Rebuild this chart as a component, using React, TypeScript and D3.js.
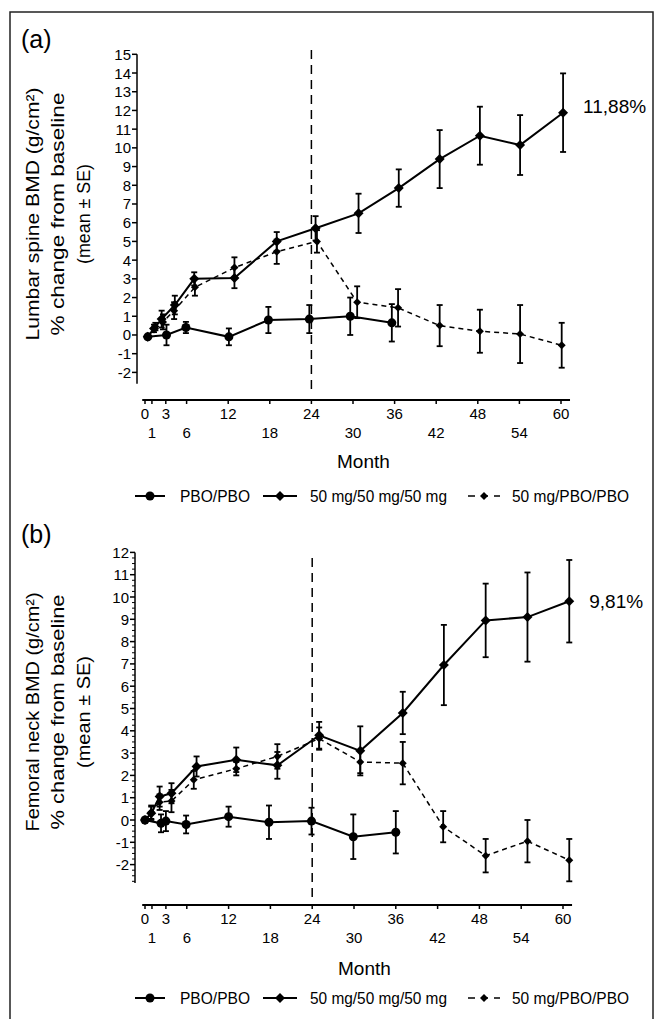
import React from 'react';
import * as d3 from 'd3';

// Panel (a): lumbar spine. Months are read as plotted (series are slightly dodged in the figure).
const pboMonthsA = [0.4, 3.1, 5.9, 12.1, 17.8, 23.7, 29.6, 35.6];
const pboValuesA = [-0.1, 0.0, 0.4, -0.1, 0.8, 0.85, 1.0, 0.65];
const pboSeA = [0, 0.55, 0.3, 0.45, 0.7, 0.75, 1.0, 1.0];

const contMonthsA = [0.4, 1.3, 2.4, 4.3, 7.1, 12.9, 19.0, 24.6, 30.8, 36.6, 42.5, 48.3, 54.1, 60.3];
const contValuesA = [-0.1, 0.35, 0.85, 1.6, 3.0, 3.05, 5.0, 5.7, 6.5, 7.85, 9.4, 10.65, 10.15, 11.88];
const contSeA = [0, 0.2, 0.45, 0.5, 0.35, 0.55, 0.5, 0.65, 1.05, 1.0, 1.55, 1.55, 1.6, 2.1];

const stopMonthsA = [0.4, 1.5, 2.6, 4.2, 7.2, 12.9, 19.0, 24.8, 30.6, 36.5, 42.5, 48.3, 54.1, 60.1];
const stopValuesA = [-0.1, 0.45, 0.7, 1.3, 2.55, 3.6, 4.45, 5.0, 1.75, 1.45, 0.5, 0.2, 0.05, -0.55];
const stopSeA = [0, 0.2, 0.4, 0.45, 0.45, 0.55, 0.65, 0.6, 0.85, 1.0, 1.1, 1.15, 1.55, 1.2];

// Panel (b): femoral neck
const pboMonthsB = [0, 2.3, 3.0, 5.9, 12.0, 17.8, 23.9, 29.9, 36.0];
const pboValuesB = [0, -0.15, -0.05, -0.2, 0.15, -0.1, -0.05, -0.75, -0.55];
const pboSeB = [0, 0.4, 0.45, 0.4, 0.45, 0.75, 0.6, 1.0, 0.95];

const contMonthsB = [0, 0.9, 2.1, 3.8, 7.4, 13.1, 19.0, 25.0, 30.9, 37.0, 42.9, 48.9, 54.9, 60.9];
const contValuesB = [0, 0.3, 1.05, 1.2, 2.4, 2.7, 2.45, 3.8, 3.1, 4.8, 6.95, 8.95, 9.1, 9.81];
const contSeB = [0, 0.3, 0.45, 0.45, 0.45, 0.55, 0.6, 0.6, 1.1, 0.95, 1.8, 1.65, 2.0, 1.85];

const stopMonthsB = [0, 0.9, 2.1, 3.8, 7.0, 13.1, 19.0, 25.0, 30.9, 37.0, 42.8, 48.9, 54.9, 60.9];
const stopValuesB = [0, 0.35, 0.8, 0.85, 1.8, 2.3, 2.85, 3.65, 2.6, 2.55, -0.3, -1.6, -0.95, -1.8];
const stopSeB = [0, 0.3, 0.35, 0.5, 0.4, 0.3, 0.55, 0.5, 0.5, 0.95, 0.7, 0.75, 0.95, 0.95];

const xTopTicks = [0, 3, 12, 24, 36, 48, 60];
const xBottomTicks = [1, 6, 18, 30, 42, 54];
const yTicksA = d3.range(-2, 16);
const yTicksB = d3.range(-2, 13);

const legendLabels = ['PBO/PBO', '50 mg/50 mg/50 mg', '50 mg/PBO/PBO'];

const FONT = '"Liberation Sans", Arial, sans-serif';

type Pt = { m: number; v: number; se: number };
const zip = (ms: number[], vs: number[], ses: number[]): Pt[] =>
  ms.map((m, i) => ({ m, v: vs[i], se: ses[i] }));

const Diamond = ({ x, y, r }: { x: number; y: number; r: number }) => (
  <path d={`M${x},${y - r}L${x + r},${y}L${x},${y + r}L${x - r},${y}Z`} fill="#000" />
);

const Series = ({ pts, x, y, kind }: { pts: Pt[]; x: any; y: any; kind: 'pbo' | 'cont' | 'stop' }) => {
  const line = d3.line<Pt>().x(d => x(d.m)).y(d => y(d.v));
  return (
    <g>
      <path
        d={line(pts) || ''}
        fill="none"
        stroke="#000"
        strokeWidth={kind === 'stop' ? 1.5 : 2}
        strokeDasharray={kind === 'stop' ? '5,4' : undefined}
      />
      {pts.filter(d => d.se > 0).map((d, i) => (
        <g key={i} stroke="#000" strokeWidth={1.8}>
          <line x1={x(d.m)} x2={x(d.m)} y1={y(d.v + d.se)} y2={y(d.v - d.se)} />
          <line x1={x(d.m) - 3} x2={x(d.m) + 3} y1={y(d.v + d.se)} y2={y(d.v + d.se)} />
          <line x1={x(d.m) - 3} x2={x(d.m) + 3} y1={y(d.v - d.se)} y2={y(d.v - d.se)} />
        </g>
      ))}
      {pts.map((d, i) =>
        kind === 'pbo' ? (
          <circle key={i} cx={x(d.m)} cy={y(d.v)} r={4.5} fill="#000" />
        ) : (
          <Diamond key={i} x={x(d.m)} y={y(d.v)} r={kind === 'cont' ? 5 : 4} />
        )
      )}
    </g>
  );
};

const Legend = ({ cy }: { cy: number }) => (
  <g fontFamily={FONT} fontSize={16}>
    <line x1={135} x2={165} y1={cy} y2={cy} stroke="#000" strokeWidth={2} />
    <circle cx={150} cy={cy} r={4.5} fill="#000" />
    <text x={180} y={cy + 5.5} textLength={70} lengthAdjust="spacingAndGlyphs">{legendLabels[0]}</text>
    <line x1={263} x2={297} y1={cy} y2={cy} stroke="#000" strokeWidth={2} />
    <Diamond x={280} y={cy} r={5} />
    <text x={310} y={cy + 5.5} textLength={137} lengthAdjust="spacingAndGlyphs">{legendLabels[1]}</text>
    <line x1={468} x2={500} y1={cy} y2={cy} stroke="#000" strokeWidth={1.5} strokeDasharray="7,6" />
    <Diamond x={484} y={cy} r={4} />
    <text x={512} y={cy + 5.5} textLength={117} lengthAdjust="spacingAndGlyphs">{legendLabels[2]}</text>
  </g>
);

type PanelProps = {
  tag: string;
  tagY: number;
  x: any;
  y: any;
  yTicks: number[];
  yMin: number;
  axisX: number;
  xAxisY: number;
  minor: boolean;
  series: { pts: Pt[]; kind: 'pbo' | 'cont' | 'stop' }[];
  yLines: string[];
  yLineLengths: number[];
  labelCy: number;
  endLabel: string;
  endDy: number;
  monthY: number;
  refTop: number;
};

const Panel = (p: PanelProps) => {
  const { x, y } = p;
  const minorTicks = p.minor ? d3.range(-2.75, 12.01, 0.25).filter(v => Math.abs(v - Math.round(v)) > 0.01) : [];
  const last = p.series[1].pts[p.series[1].pts.length - 1];
  return (
    <g fontFamily={FONT}>
      <text x={21} y={p.tagY} fontSize={25}>{p.tag}</text>
      {/* y axis */}
      <line x1={p.axisX} x2={p.axisX} y1={y(p.yTicks[p.yTicks.length - 1])} y2={y(p.yMin)} stroke="#000" strokeWidth={1.5} />
      {p.yTicks.map(t => (
        <g key={t}>
          <line x1={p.axisX - 5} x2={p.axisX} y1={y(t)} y2={y(t)} stroke="#000" strokeWidth={1.5} />
          <text x={p.axisX - 6} y={y(t) + 5.5} fontSize={15} textAnchor="end">{t}</text>
        </g>
      ))}
      {minorTicks.map(t => (
        <line key={t} x1={p.axisX - 3} x2={p.axisX} y1={y(t)} y2={y(t)} stroke="#000" strokeWidth={1} />
      ))}
      {/* x axis */}
      <line x1={x(-0.4)} x2={x(61.3)} y1={p.xAxisY} y2={p.xAxisY} stroke="#000" strokeWidth={2} />
      {[...xTopTicks, ...xBottomTicks].map(t => (
        <line key={t} x1={x(t)} x2={x(t)} y1={p.xAxisY} y2={p.xAxisY + 4} stroke="#000" strokeWidth={1.5} />
      ))}
      {xTopTicks.map(t => (
        <text key={t} x={x(t)} y={p.xAxisY + 19} fontSize={15} textAnchor="middle">{t}</text>
      ))}
      {xBottomTicks.map(t => (
        <text key={t} x={x(t)} y={p.xAxisY + 38} fontSize={15} textAnchor="middle">{t}</text>
      ))}
      <text x={x(31.5)} y={p.monthY} fontSize={19} textAnchor="middle">Month</text>
      {/* reference line at 24 months */}
      <line x1={x(24)} x2={x(24)} y1={p.refTop} y2={p.xAxisY - 6} stroke="#000" strokeWidth={1.5} strokeDasharray="9,6" />
      {/* y label */}
      {p.yLines.map((s, i) => (
        <text
          key={i}
          transform={`translate(${32 + i * 25.5},${p.labelCy}) rotate(-90)`}
          fontSize={19}
          textAnchor="middle"
          dominantBaseline="central"
          textLength={p.yLineLengths[i]}
          lengthAdjust="spacingAndGlyphs"
        >
          {s}
        </text>
      ))}
      {p.series.map((s, i) => (
        <Series key={i} pts={s.pts} x={x} y={y} kind={s.kind} />
      ))}
      <text x={x(last.m) + 20} y={y(last.v) + p.endDy} fontSize={19}>{p.endLabel}</text>
    </g>
  );
};

export default function App() {
  const xA = d3.scaleLinear().domain([0, 60]).range([145, 561]);
  const yA = d3.scaleLinear().domain([-2, 15]).range([372.4, 54.3]);
  const xB = d3.scaleLinear().domain([0, 60]).range([145, 563]);
  const yB = d3.scaleLinear().domain([-2, 12]).range([864.6, 552.4]);

  return (
    <svg width={655} height={1019} style={{ position: 'absolute', left: 0, top: 0, background: '#fff' }}>
      <rect x={0} y={0} width={655} height={1019} fill="#fff" />
      <rect x={10} y={12} width={643} height={1030} fill="none" stroke="#222" strokeWidth={1.5} />
      <Panel
        tag="(a)"
        tagY={48}
        x={xA}
        y={yA}
        yTicks={yTicksA}
        yMin={-2.6}
        axisX={137}
        xAxisY={400}
        minor={false}
        series={[
          { pts: zip(pboMonthsA, pboValuesA, pboSeA), kind: 'pbo' },
          { pts: zip(contMonthsA, contValuesA, contSeA), kind: 'cont' },
          { pts: zip(stopMonthsA, stopValuesA, stopSeA), kind: 'stop' },
        ]}
        yLines={['Lumbar spine BMD (g/cm\u00B2)', '% change from baseline', '(mean \u00B1 SE)']}
        yLineLengths={[253, 243, 100]}
        labelCy={214}
        endLabel="11,88%"
        endDy={0}
        monthY={468}
        refTop={50}
      />
      <Legend cy={496} />
      <Panel
        tag="(b)"
        tagY={543}
        x={xB}
        y={yB}
        yTicks={yTicksB}
        yMin={-2.83}
        axisX={135}
        xAxisY={905}
        minor={true}
        series={[
          { pts: zip(pboMonthsB, pboValuesB, pboSeB), kind: 'pbo' },
          { pts: zip(contMonthsB, contValuesB, contSeB), kind: 'cont' },
          { pts: zip(stopMonthsB, stopValuesB, stopSeB), kind: 'stop' },
        ]}
        yLines={['Femoral neck BMD (g/cm\u00B2)', '% change from baseline', '(mean \u00B1 SE)']}
        yLineLengths={[239, 235, 112]}
        labelCy={712}
        endLabel="9,81%"
        endDy={7}
        monthY={975}
        refTop={558}
      />
      <Legend cy={998} />
    </svg>
  );
}
